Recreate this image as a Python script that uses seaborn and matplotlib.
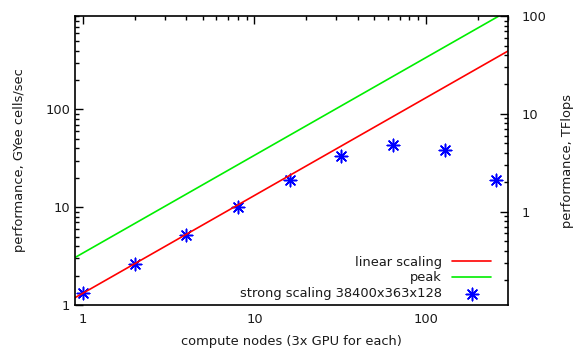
import numpy as np
import pandas as pd
import seaborn as sns
import matplotlib.pyplot as plt
from matplotlib.ticker import FuncFormatter, LogLocator, NullFormatter

# strong scaling measurements
nodes = [1, 2, 4, 8, 16, 32, 64, 128, 256]
perf = [1.33, 2.63, 5.15, 10.1, 19.2, 33.8, 43.0, 38.3, 19.2]

# reference lines (per-node rate)
linear_rate = 1.32
peak_rate = 3.4
x_range = [0.9, 300]
gyee_per_tflop = 9.0

df = pd.DataFrame({"nodes": nodes, "perf": perf})
lines = pd.DataFrame({"nodes": x_range})
lines["linear"] = linear_rate * lines["nodes"]
lines["peak"] = peak_rate * lines["nodes"]

sns.set_style("white")
plt.rcParams["font.family"] = ["DejaVu Sans"]
plt.rcParams["font.size"] = 9.4
plt.rcParams["text.color"] = "#1a1a1a"
plt.rcParams["axes.labelcolor"] = "#1a1a1a"
plt.rcParams["xtick.labelcolor"] = "#1a1a1a"
plt.rcParams["ytick.labelcolor"] = "#1a1a1a"

fig = plt.figure(figsize=(5.74, 3.51), dpi=100)
ax = fig.add_axes([0.1307, 0.131, 0.7543, 0.823])

sns.lineplot(data=lines, x="nodes", y="linear", color="#ff0000", lw=1.2,
             label="linear scaling", ax=ax)
sns.lineplot(data=lines, x="nodes", y="peak", color="#00ee00", lw=1.2,
             label="peak", ax=ax)
sns.scatterplot(data=df, x="nodes", y="perf", marker=(8, 2, 0), s=80,
                color="#0000ff", edgecolor="#0000ff", linewidth=1.1,
                label="strong scaling 38400x363x128", ax=ax)

ax.set_xscale("log")
ax.set_yscale("log")
ax.set_xlim(x_range)
ax.set_ylim(1, 900)
ax.set_xlabel("compute nodes (3x GPU for each)", labelpad=6)
ax.set_ylabel("performance, GYee cells/sec", labelpad=14)

fmt = FuncFormatter(lambda v, p: f"{v:g}")
for a in (ax.xaxis, ax.yaxis):
    a.set_major_locator(LogLocator(base=10))
    a.set_minor_locator(LogLocator(base=10, subs=np.arange(2, 10)))
    a.set_major_formatter(fmt)
    a.set_minor_formatter(NullFormatter())

ax.tick_params(which="both", direction="in", top=True, right=False,
               color="black", labelsize=9.4)
ax.tick_params(axis="x", pad=6)
ax.tick_params(which="major", length=6, width=1)
ax.tick_params(which="minor", length=3, width=1)
for s in ax.spines.values():
    s.set_color("black")
    s.set_linewidth(1.2)

ax2 = ax.twinx()
ax2.set_yscale("log")
ax2.set_ylim(1 / gyee_per_tflop, 900 / gyee_per_tflop)
ax2.yaxis.set_major_locator(LogLocator(base=10))
ax2.yaxis.set_minor_locator(LogLocator(base=10, subs=np.arange(2, 10)))
ax2.yaxis.set_major_formatter(fmt)
ax2.yaxis.set_minor_formatter(NullFormatter())
ax2.tick_params(which="both", direction="in", color="black", labelsize=9.4, pad=10)
ax2.tick_params(which="major", length=6, width=1)
ax2.tick_params(which="minor", length=3, width=1)
ax2.set_ylabel("performance, TFlops", labelpad=10)
for s in ax2.spines.values():
    s.set_visible(False)

ax.legend(loc="lower right", frameon=False, markerfirst=False, fontsize=9.4,
          handlelength=3, labelspacing=0.2, borderaxespad=0.2,
          bbox_to_anchor=(0.98, -0.01))

fig.savefig("out.png", dpi=100)
